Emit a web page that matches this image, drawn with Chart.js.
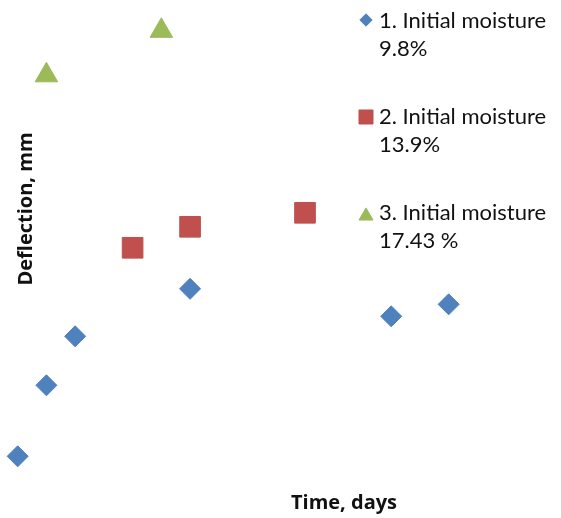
<!DOCTYPE html>
<html>
<head>
<meta charset="utf-8">
<script src="https://cdn.jsdelivr.net/npm/chart.js"></script>
<style>
  html, body { margin: 0; padding: 0; background: #ffffff; }
  #wrap { width: 561px; height: 518px; }
</style>
</head>
<body>
<div id="wrap"><canvas id="chart" width="561" height="518"></canvas></div>
<script>
// Time (days) and measured deflection (mm) for each initial moisture level
const days1 = [0, 1, 2, 6, 13, 15];
const deflection1 = [0.00, 1.42, 2.40, 3.35, 2.80, 3.04];

const days2 = [4, 6, 10];
const deflection2 = [4.17, 4.59, 4.87];

const days3 = [1, 5];
const deflection3 = [7.62, 8.51];

const seriesLabels = [
  ['1. Initial moisture', '9.8%'],
  ['2. Initial moisture', '13.9%'],
  ['3. Initial moisture', '17.43 %']
];
const xTitle = 'Time, days';
const yTitle = 'Deflection, mm';

const colors = ['#4F81BD', '#C0504D', '#9BBB59'];
const styles = ['rectRot', 'rect', 'triangle'];
const radii = [10.5, 14.6, 13];

function toPoints(xs, ys) {
  return xs.map((x, i) => ({ x: x, y: ys[i] }));
}

const TITLE_FONT = '"Open Sans", Lato, "Liberation Sans", sans-serif';
const LEGEND_FONT = 'Lato, "Open Sans", "Liberation Sans", sans-serif';

// Axis titles and the two-line legend, painted after the datasets
const annotations = {
  id: 'annotations',
  afterDraw(chart) {
    const ctx = chart.ctx;
    ctx.save();
    ctx.fillStyle = '#111111';

    // axis titles
    ctx.font = 'bold 20px ' + TITLE_FONT;
    ctx.textAlign = 'center';
    ctx.textBaseline = 'alphabetic';
    ctx.fillText(xTitle, 344, 509);

    ctx.save();
    ctx.translate(31.5, 209);
    ctx.rotate(-Math.PI / 2);
    ctx.fillText(yTitle, 0, 0);
    ctx.restore();

    // legend
    ctx.font = '22px ' + LEGEND_FONT;
    ctx.textAlign = 'left';
    const legendMarks = [
      { r: 6.2, y: 20 },
      { r: 9.9, y: 117 },
      { r: 8.1, y: 216 }
    ];
    const baselines = [28, 124, 220];
    seriesLabels.forEach((lines, i) => {
      const m = legendMarks[i];
      ctx.fillStyle = colors[i];
      ctx.strokeStyle = colors[i];
      Chart.helpers.drawPoint(ctx, {
        pointStyle: styles[i], radius: m.r, borderWidth: 1, rotation: 0
      }, 366, m.y);
      ctx.fillStyle = '#111111';
      lines.forEach((t, j) => ctx.fillText(t, 379, baselines[i] + j * 28));
    });
    ctx.restore();
  }
};

new Chart(document.getElementById('chart'), {
  type: 'scatter',
  data: {
    datasets: [
      { label: seriesLabels[0].join(' '), data: toPoints(days1, deflection1) },
      { label: seriesLabels[1].join(' '), data: toPoints(days2, deflection2) },
      { label: seriesLabels[2].join(' '), data: toPoints(days3, deflection3) }
    ].map((d, i) => Object.assign(d, {
      pointStyle: styles[i],
      pointRadius: radii[i],
      pointHoverRadius: radii[i],
      pointBorderWidth: 1,
      backgroundColor: colors[i],
      borderColor: colors[i],
      showLine: false,
      clip: false
    }))
  },
  options: {
    responsive: false,
    animation: false,
    devicePixelRatio: 1,
    layout: {
      autoPadding: false,
      padding: { left: 10.5, right: 83.6, top: 6.3, bottom: 36.7 }
    },
    plugins: {
      legend: { display: false },
      tooltip: { enabled: false }
    },
    scales: {
      x: { type: 'linear', min: -0.25, max: 16, display: false },
      y: { type: 'linear', min: -0.5, max: 9, display: false }
    }
  },
  plugins: [annotations]
});
</script>
</body>
</html>
